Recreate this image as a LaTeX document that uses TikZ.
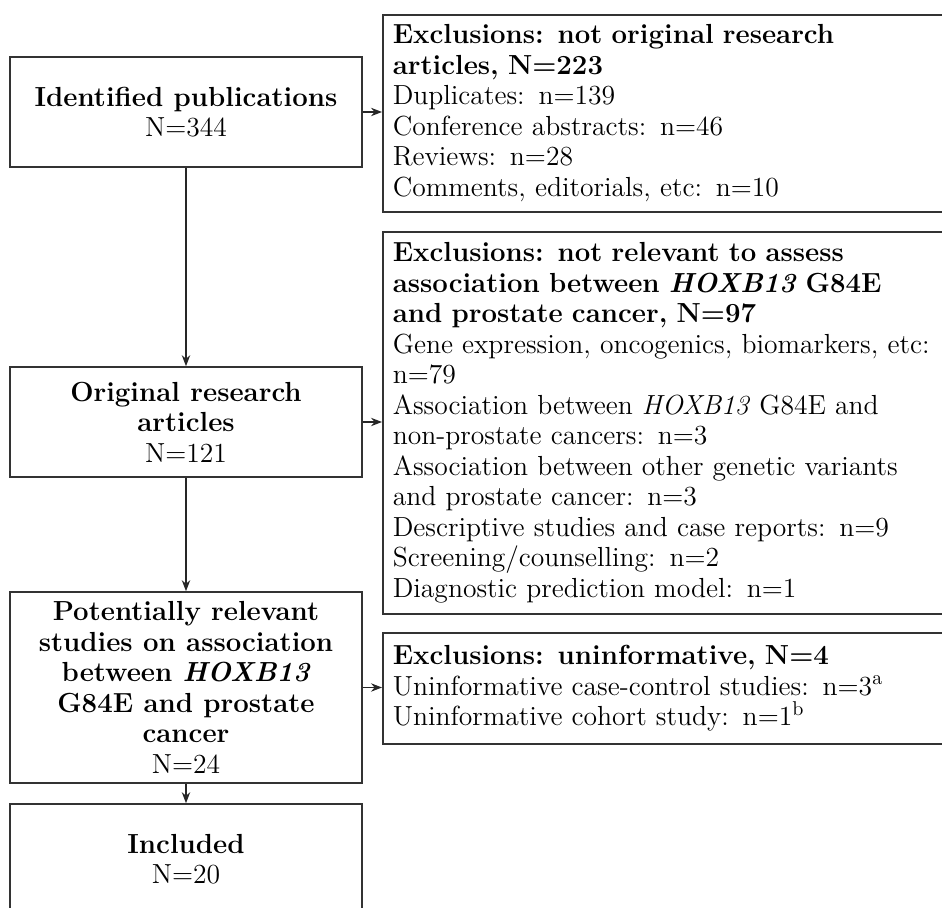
\documentclass[tikz,border=0pt]{standalone}
\usetikzlibrary{arrows.meta}
\begin{document}
\begin{tikzpicture}[x=0.5pt,y=-0.5pt,
  font=\fontsize{13.8}{15.25}\selectfont,
  lbox/.style={draw=black!80, line width=0.8pt, minimum width=176pt, align=center, inner sep=0pt},
  rbox/.style={draw=black!80, line width=0.8pt, anchor=north west, text width=280pt, align=left, inner sep=5pt},
  arr/.style={draw=black!85, line width=0.6pt, -{Stealth[length=5.5pt,width=4.2pt]}}]
\useasboundingbox (0,0) rectangle (942,908);
\clip (0,0) rectangle (942,908);
\node[lbox, minimum height=55pt] (b1) at (186,112) {\textbf{Identified publications}\\N=344};
\node[lbox, minimum height=55pt] (b2) at (186,422) {\textbf{Original research}\\\textbf{articles}\\N=121};
\node[lbox, minimum height=95.5pt] (b3) at (186,687.5) {\textbf{Potentially relevant}\\\textbf{studies on association}\\\textbf{between \textit{HOXB13}}\\\textbf{G84E and prostate}\\\textbf{cancer}\\N=24};
\node[lbox, minimum height=55pt] (b4) at (186,859) {\textbf{Included}\\N=20};
\node[rbox, minimum height=98.5pt] (r1) at (382,14) {\textbf{Exclusions: not original research}\\\textbf{articles, N=223}\\Duplicates: n=139\\Conference abstracts: n=46\\Reviews: n=28\\Comments, editorials, etc: n=10};
\node[rbox, minimum height=191pt] (r2) at (382,231) {\textbf{Exclusions: not relevant to assess}\\\textbf{association between \textit{HOXB13} G84E}\\\textbf{and prostate cancer, N=97}\\Gene expression, oncogenics, biomarkers, etc:\\n=79\\Association between \textit{HOXB13} G84E and\\non-prostate cancers: n=3\\Association between other genetic variants\\and prostate cancer: n=3\\Descriptive studies and case reports: n=9\\Screening/counselling: n=2\\Diagnostic prediction model: n=1};
\node[rbox, minimum height=55.5pt] (r3) at (382,632) {\textbf{Exclusions: uninformative, N=4}\\Uninformative case-control studies: n=3$^{\mathrm{a}}$\\Uninformative cohort study: n=1$^{\mathrm{b}}$};
\draw[arr] (b1.east) -- (b1.east -| r1.west);
\draw[arr] (b2.east) -- (b2.east -| r2.west);
\draw[arr] (b3.east) -- (b3.east -| r3.west);
\draw[arr] (b1.south) -- (b2.north);
\draw[arr] (b2.south) -- (b3.north);
\draw[arr] (b3.south) -- (b4.north);
\end{tikzpicture}
\end{document}
